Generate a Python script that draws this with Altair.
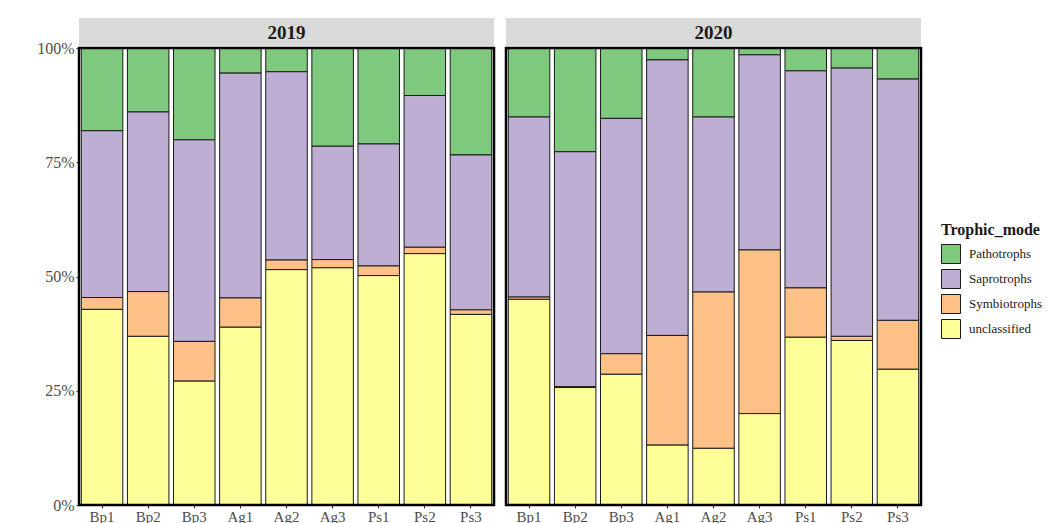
import altair as alt
import pandas as pd

samples = ["Bp1", "Bp2", "Bp3", "Ag1", "Ag2", "Ag3", "Ps1", "Ps2", "Ps3"]
modes = ["Pathotrophs", "Saprotrophs", "Symbiotrophs", "unclassified"]
colors = ["#7fc97f", "#beaed4", "#fdc086", "#ffff99"]
stack_rank = {"unclassified": 0, "Symbiotrophs": 1, "Saprotrophs": 2, "Pathotrophs": 3}

# percentages (per sample, per trophic mode)
y2019_unclassified = [42.8, 36.9, 27.1, 38.9, 51.5, 51.9, 50.2, 55.0, 41.7]
y2019_symbiotrophs = [2.6, 9.8, 8.7, 6.4, 2.1, 1.8, 2.1, 1.4, 1.0]
y2019_saprotrophs = [36.5, 39.3, 44.1, 49.2, 41.2, 24.8, 26.7, 33.2, 33.9]
y2019_pathotrophs = [18.1, 14.0, 20.1, 5.5, 5.2, 21.5, 21.0, 10.4, 23.4]

y2020_unclassified = [45.0, 25.7, 28.6, 13.1, 12.4, 20.0, 36.7, 36.0, 29.7]
y2020_symbiotrophs = [0.5, 0.2, 4.5, 24.0, 34.2, 35.8, 10.8, 0.9, 10.7]
y2020_saprotrophs = [39.4, 51.4, 51.5, 60.3, 38.3, 42.7, 47.5, 58.7, 52.8]
y2020_pathotrophs = [15.1, 22.7, 15.4, 2.6, 15.1, 1.5, 5.0, 4.4, 6.8]

years = {
    "2019": {"Pathotrophs": y2019_pathotrophs, "Saprotrophs": y2019_saprotrophs,
             "Symbiotrophs": y2019_symbiotrophs, "unclassified": y2019_unclassified},
    "2020": {"Pathotrophs": y2020_pathotrophs, "Saprotrophs": y2020_saprotrophs,
             "Symbiotrophs": y2020_symbiotrophs, "unclassified": y2020_unclassified},
}

rows = []
for yr, series in years.items():
    for mode, vals in series.items():
        for s, v in zip(samples, vals):
            rows.append({"Year": yr, "Sample": s, "Trophic_mode": mode,
                         "pct": v, "rank": stack_rank[mode]})
df = pd.DataFrame(rows)

FONT = "Liberation Serif"
W, H = 415, 457


def panel(year, show_y):
    d = df[df["Year"] == year]
    if show_y:
        yaxis = alt.Axis(values=[0, 25, 50, 75, 100], labelExpr="datum.value + '%'",
                         domain=False, grid=False, ticks=True, tickSize=3,
                         tickColor="#333333", labelPadding=2, labelFontSize=16,
                         labelColor="#4d4d4d", labelFont=FONT)
    else:
        yaxis = None
    bars = alt.Chart(d).mark_bar(stroke="#1a1a1a", strokeWidth=1).encode(
        x=alt.X("Sample:N", sort=samples, title=None,
                scale=alt.Scale(paddingInner=0.1, paddingOuter=0.05),
                axis=alt.Axis(labelAngle=0, domain=False, grid=False, tickSize=3,
                              tickColor="#333333", labelPadding=1, labelFontSize=15,
                              labelColor="#4d4d4d", labelFont=FONT)),
        y=alt.Y("pct:Q", stack="zero", title=None,
                scale=alt.Scale(domain=[0, 100], nice=False), axis=yaxis),
        color=alt.Color("Trophic_mode:N",
                        scale=alt.Scale(domain=modes, range=colors),
                        legend=alt.Legend(title="Trophic_mode", orient="none",
                                          legendX=862, legendY=174,
                                          symbolType="square", symbolSize=361,
                                          symbolStrokeColor="#1a1a1a",
                                          symbolStrokeWidth=1,
                                          rowPadding=1, titlePadding=6,
                                          labelFontSize=13, labelFont=FONT,
                                          labelColor="#1a1a1a", labelOffset=8,
                                          titleFontSize=16, titleFont=FONT,
                                          titleFontWeight="bold",
                                          titleColor="#1a1a1a")),
        order=alt.Order("rank:Q", sort="ascending"),
    )
    strip_df = pd.DataFrame({"label": [year]})
    strip = alt.Chart(strip_df).mark_rect(fill="#d9d9d9").encode(
        x=alt.value(0), x2=alt.value(W), y=alt.value(-30), y2=alt.value(-2))
    text = alt.Chart(strip_df).mark_text(font=FONT, fontWeight="bold", fontSize=19,
                                         color="#1a1a1a", baseline="middle").encode(
        x=alt.value(W / 2), y=alt.value(-15), text="label:N")
    border = alt.Chart(strip_df).mark_rect(fillOpacity=0, stroke="#000000",
                                           strokeWidth=2.5).encode(
        x=alt.value(0), x2=alt.value(W), y=alt.value(0), y2=alt.value(H))
    return alt.layer(bars, strip, text, border).properties(width=W, height=H)


chart = alt.hconcat(panel("2019", True), panel("2020", False), spacing=8).properties(
    padding={"left": 36, "top": 17, "right": 5, "bottom": 0}
).configure_view(stroke=None).configure(background="#ffffff")

chart.save("out.html", embed_options={"renderer": "svg", "actions": False})
